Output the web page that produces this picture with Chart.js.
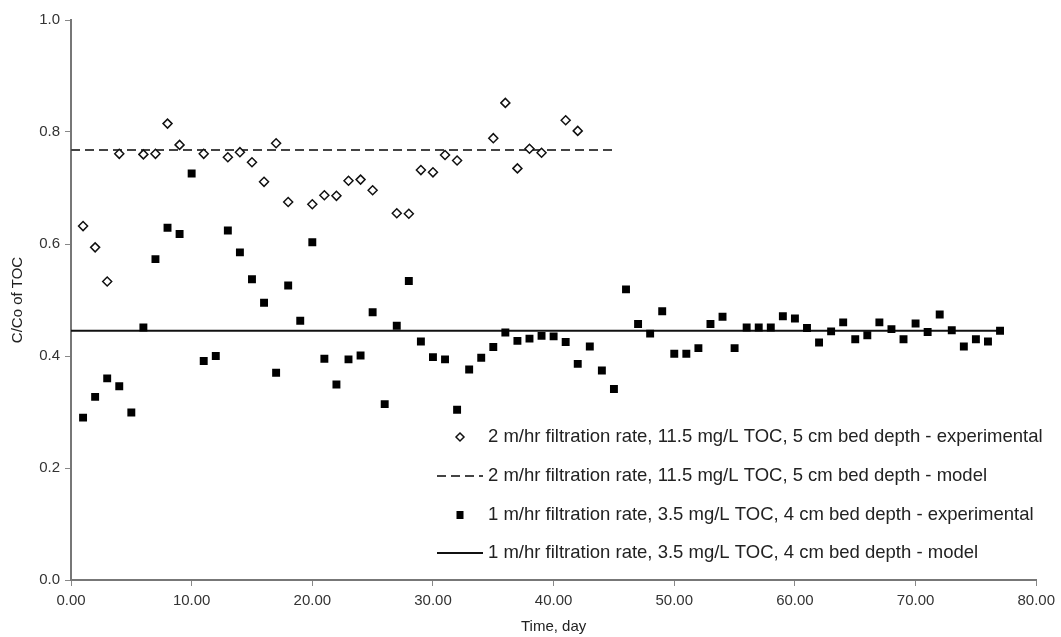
<!DOCTYPE html>
<html>
<head>
<meta charset="utf-8">
<script src="https://cdn.jsdelivr.net/npm/chart.js@4/dist/chart.umd.min.js"></script>
<style>
  html, body { margin: 0; padding: 0; background: #fff; }
  #wrap { width: 1061px; height: 637px; position: relative; }
</style>
</head>
<body>
<div id="wrap"><canvas id="c" width="1061" height="637"></canvas></div>
<script>
// ---- data ----
const expA_days = [1,2,3,4,6,7,8,9,11,13,14,15,16,17,18,20,21,22,23,24,25,27,28,29,30,31,32,35,36,37,38,39,41,42];
const expA_vals = [0.632,0.594,0.533,0.761,0.760,0.761,0.815,0.777,0.761,0.755,0.764,0.746,0.711,0.780,0.675,0.671,0.687,0.686,0.713,0.715,0.696,0.655,0.654,0.732,0.728,0.759,0.749,0.789,0.852,0.735,0.770,0.763,0.821,0.802];

const expB_days = [1,2,3,4,5,6,7,8,9,10,11,12,13,14,15,16,17,18,19,20,21,22,23,24,25,26,27,28,29,30,31,32,33,34,35,36,37,38,39,40,41,42,43,44,45,46,47,48,49,50,51,52,53,54,55,56,57,58,59,60,61,62,63,64,65,66,67,68,69,70,71,72,73,74,75,76,77];
const expB_vals = [0.290,0.327,0.360,0.346,0.299,0.451,0.573,0.629,0.618,0.726,0.391,0.400,0.624,0.585,0.537,0.495,0.370,0.526,0.463,0.603,0.395,0.349,0.394,0.401,0.478,0.314,0.454,0.534,0.426,0.398,0.394,0.304,0.376,0.397,0.416,0.442,0.427,0.431,0.436,0.435,0.425,0.386,0.417,0.374,0.341,0.519,0.457,0.440,0.480,0.404,0.404,0.414,0.457,0.470,0.414,0.451,0.451,0.451,0.471,0.467,0.450,0.424,0.444,0.460,0.430,0.437,0.460,0.448,0.430,0.458,0.443,0.474,0.446,0.417,0.430,0.426,0.445];

const modelA_days = [0, 45];
const modelA_vals = [0.768, 0.768];
const modelB_days = [0, 77];
const modelB_vals = [0.445, 0.445];

const seriesLabels = [
  "2 m/hr filtration rate, 11.5 mg/L TOC, 5 cm bed depth - experimental",
  "2 m/hr filtration rate, 11.5 mg/L TOC, 5 cm bed depth - model",
  "1 m/hr filtration rate, 3.5 mg/L TOC, 4 cm bed depth - experimental",
  "1 m/hr filtration rate, 3.5 mg/L TOC, 4 cm bed depth - model"
];
const xTitle = "Time, day";
const yTitle = "C/Co of TOC";

function pts(xs, ys) { return xs.map((x, i) => ({ x: x, y: ys[i] })); }

const FONT = "'Liberation Sans', Arial, sans-serif";

// custom legend drawn at a fixed place inside the plot
const legendPlugin = {
  id: 'fixedLegend',
  afterDraw(chart) {
    const ctx = chart.ctx;
    const ds = chart.data.datasets;
    const rowsY = [437, 476, 515, 553];
    const textX = 488;
    const markX = 460;
    ctx.save();
    ctx.font = "18.5px " + FONT;
    ctx.textBaseline = "middle";
    ctx.textAlign = "left";
    ds.forEach((d, i) => {
      const y = rowsY[i];
      if (d.showLine === false) {
        if (d.pointStyle === 'rectRot') {
          ctx.beginPath();
          ctx.moveTo(markX, y - 4); ctx.lineTo(markX + 4, y); ctx.lineTo(markX, y + 4); ctx.lineTo(markX - 4, y); ctx.closePath();
          ctx.fillStyle = '#fff'; ctx.fill();
          ctx.lineWidth = 1.5; ctx.strokeStyle = '#111'; ctx.stroke();
        } else {
          ctx.fillStyle = '#000';
          ctx.fillRect(markX - 3.5, y - 4, 7, 8);
        }
      } else {
        ctx.beginPath();
        ctx.setLineDash(d.borderDash || []);
        ctx.lineWidth = d.borderWidth;
        ctx.strokeStyle = d.borderColor;
        ctx.moveTo(437, y); ctx.lineTo(483, y);
        ctx.stroke();
        ctx.setLineDash([]);
      }
      ctx.fillStyle = "#222";
      ctx.fillText(d.label, textX, y);
    });
    ctx.restore();
  }
};

new Chart(document.getElementById('c'), {
  type: 'scatter',
  data: {
    datasets: [
      {
        label: seriesLabels[0],
        data: pts(expA_days, expA_vals),
        showLine: false,
        pointStyle: 'rectRot',
        pointRadius: 4.5,
        pointBorderWidth: 1.5,
        pointBackgroundColor: '#fff',
        pointBorderColor: '#111',
        order: 1
      },
      {
        label: seriesLabels[1],
        data: pts(modelA_days, modelA_vals),
        showLine: true,
        borderColor: '#444',
        borderWidth: 2,
        borderDash: [9, 5],
        pointRadius: 0,
        fill: false,
        order: 3
      },
      {
        label: seriesLabels[2],
        data: pts(expB_days, expB_vals),
        showLine: false,
        pointStyle: 'rect',
        pointRadius: 5.6,
        pointBorderWidth: 0,
        pointBackgroundColor: '#000',
        pointBorderColor: '#000',
        order: 2
      },
      {
        label: seriesLabels[3],
        data: pts(modelB_days, modelB_vals),
        showLine: true,
        borderColor: '#111',
        borderWidth: 2,
        pointRadius: 0,
        fill: false,
        order: 4
      }
    ]
  },
  options: {
    responsive: false,
    animation: false,
    devicePixelRatio: 1,
    layout: { padding: { top: 20, right: 22, left: 0, bottom: 0 } },
    plugins: {
      legend: { display: false },
      tooltip: { enabled: false }
    },
    scales: {
      x: {
        type: 'linear',
        min: 0, max: 80,
        afterFit(s) { s.height = 57; },
        ticks: {
          stepSize: 10,
          padding: 6,
          color: '#333',
          font: { family: FONT, size: 15 },
          callback: v => Number(v).toFixed(2)
        },
        grid: { display: true, drawOnChartArea: false, drawTicks: true, tickLength: 6, color: '#888', lineWidth: 1 },
        border: { display: true, color: '#777', width: 2 },
        title: { display: true, text: xTitle, color: '#222', font: { family: FONT, size: 15 }, padding: { top: 0, bottom: 1 } }
      },
      y: {
        type: 'linear',
        min: 0, max: 1,
        afterFit(s) { s.width = 71; },
        ticks: {
          stepSize: 0.2,
          padding: 5,
          color: '#333',
          font: { family: FONT, size: 15 },
          callback: v => Number(v).toFixed(1)
        },
        grid: { display: true, drawOnChartArea: false, drawTicks: true, tickLength: 6, color: '#888', lineWidth: 1 },
        border: { display: true, color: '#777', width: 2 },
        title: { display: true, text: yTitle, color: '#222', font: { family: FONT, size: 15 }, padding: { top: 9, bottom: 0 } }
      }
    }
  },
  plugins: [legendPlugin]
});
</script>
</body>
</html>
